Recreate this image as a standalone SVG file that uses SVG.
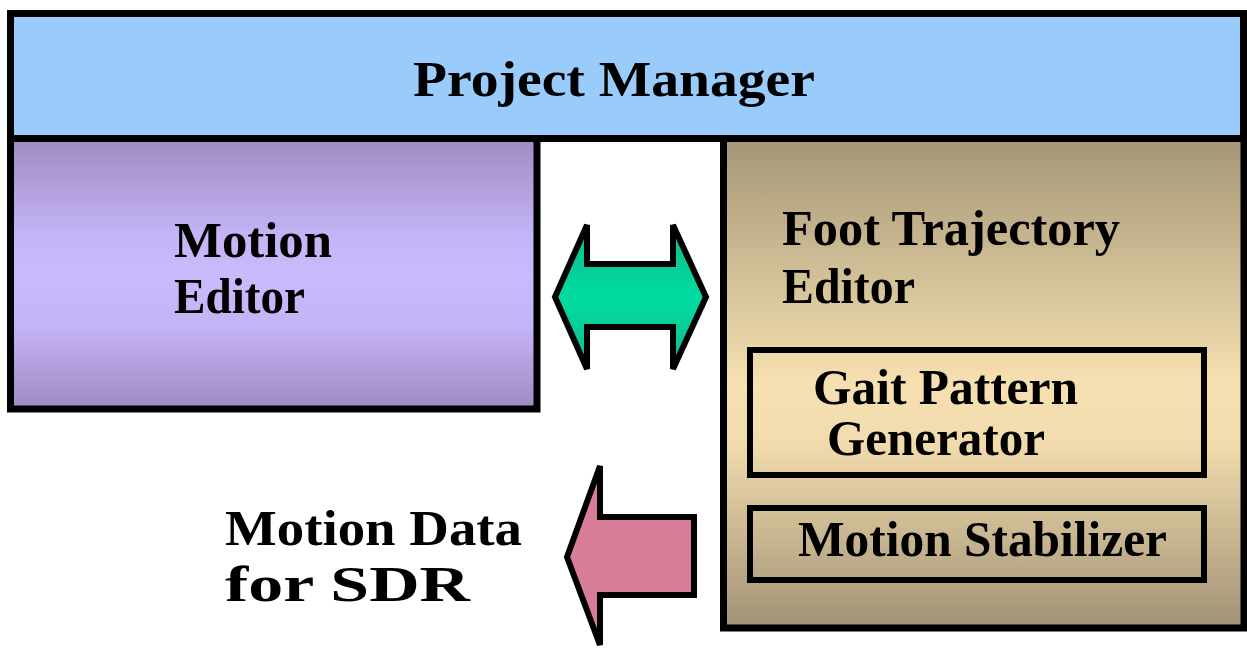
<svg xmlns="http://www.w3.org/2000/svg" width="1247" height="648" viewBox="0 0 1247 648">
<defs>
<linearGradient id="gME" x1="0" y1="0" x2="0" y2="1">
<stop offset="0" stop-color="#9f8cc2"/>
<stop offset="0.35" stop-color="#c4b3f5"/>
<stop offset="0.5" stop-color="#cabafc"/>
<stop offset="0.7" stop-color="#c4b3f5"/>
<stop offset="1" stop-color="#9e8bc2"/>
</linearGradient>
<linearGradient id="gFT" x1="0" y1="0" x2="0" y2="1">
<stop offset="0" stop-color="#a49676"/>
<stop offset="0.5" stop-color="#f6e0b1"/>
<stop offset="0.62" stop-color="#f2dcad"/>
<stop offset="1" stop-color="#a09276"/>
</linearGradient>
<linearGradient id="gGreen" x1="0" y1="0" x2="0" y2="1">
<stop offset="0" stop-color="#14b88b"/>
<stop offset="0.5" stop-color="#00dca2"/>
<stop offset="1" stop-color="#14b88b"/>
</linearGradient>
<style>
.box{stroke:#000;stroke-width:7}
.inner{fill:none;stroke:#000;stroke-width:6}
.t{font-family:"Liberation Serif","Times New Roman",serif;font-weight:bold;font-size:50px;fill:#000}
.arr{stroke:#000;stroke-width:6;stroke-linejoin:miter}
</style>
</defs>
<rect width="1247" height="648" fill="#fff"/>
<g id="project-manager">
<rect class="box" x="10.5" y="13.5" width="1233" height="125" fill="#99cbfb"/>
<text class="t" x="413" y="96" font-size="51" textLength="402" lengthAdjust="spacingAndGlyphs">Project Manager</text>
</g>
<g id="motion-editor">
<rect class="box" x="10.5" y="138.5" width="526.5" height="270.5" fill="url(#gME)"/>
<text class="t" x="174" y="257" textLength="158" lengthAdjust="spacingAndGlyphs">Motion</text>
<text class="t" x="174" y="313" textLength="131" lengthAdjust="spacingAndGlyphs">Editor</text>
</g>
<g id="foot-trajectory-editor">
<rect class="box" x="723.5" y="138.5" width="520.5" height="489.5" fill="url(#gFT)"/>
<text class="t" x="782" y="245" textLength="338" lengthAdjust="spacingAndGlyphs">Foot Trajectory</text>
<text class="t" x="782" y="303" textLength="133" lengthAdjust="spacingAndGlyphs">Editor</text>
</g>
<g id="gait-pattern-generator">
<rect class="inner" x="750" y="350" width="454" height="125"/>
<text class="t" x="813" y="404" textLength="265" lengthAdjust="spacingAndGlyphs">Gait Pattern</text>
<text class="t" x="827" y="455" textLength="218" lengthAdjust="spacingAndGlyphs">Generator</text>
</g>
<g id="motion-stabilizer">
<rect class="inner" x="750" y="508" width="454" height="72"/>
<text class="t" x="798" y="556" textLength="369" lengthAdjust="spacingAndGlyphs">Motion Stabilizer</text>
</g>
<g id="motion-data">
<text class="t" x="225" y="545" textLength="297" lengthAdjust="spacingAndGlyphs">Motion Data</text>
<text class="t" x="225" y="601" textLength="245" lengthAdjust="spacingAndGlyphs">for SDR</text>
</g>
<g id="connectors">
<path class="arr" fill="url(#gGreen)" d="M555,297 L587,225 L587,264 L673,264 L673,225 L706,297 L673,369 L673,327 L587,327 L587,369 Z"/>
<path class="arr" fill="#d77d98" d="M567,557 L600,466 L600,517 L694,517 L694,595 L600,595 L600,645 Z"/>
</g>
</svg>
